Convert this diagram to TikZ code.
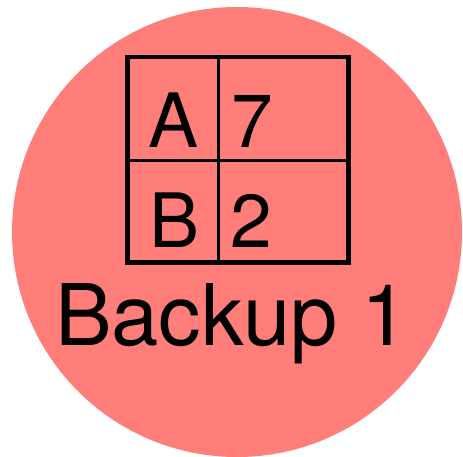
\documentclass[tikz,border=0pt]{standalone}
\usepackage{fontspec}
\setmainfont{TeX Gyre Heros}
\usepackage{xcolor}
\usetikzlibrary{positioning}
\definecolor{salmon}{HTML}{FF7E79}

\begin{document}
\begin{tikzpicture}[x=1pt, y=-1pt,
  disk/.style={circle, fill=salmon, minimum size=450pt, inner sep=0pt},
  cell/.style={inner sep=0pt, anchor=base, font=\fontsize{75}{75}\selectfont},
  caption/.style={inner sep=0pt, anchor=base, font=\fontsize{85}{85}\selectfont}]
  \useasboundingbox (0,0) rectangle (463,456);
  \node[disk] (backup) at (237,232) {};
  % key/value table
  \draw[line width=2.2pt] (218.5,57) -- (218.5,262) (128,160.5) -- (348,160.5);
  \draw[line width=4.5pt] (127.5,57) rectangle (348.5,262.5);
  \node[cell] (keyA) at (174,147) {A};
  \node[cell] (valA) at (252,147) {7};
  \node[cell] (keyB) at (174.5,247) {B};
  \node[cell] (valB) at (251.5,247) {2};
  \node[caption] (name) at (232,345) {Backup 1};
\end{tikzpicture}
\end{document}
